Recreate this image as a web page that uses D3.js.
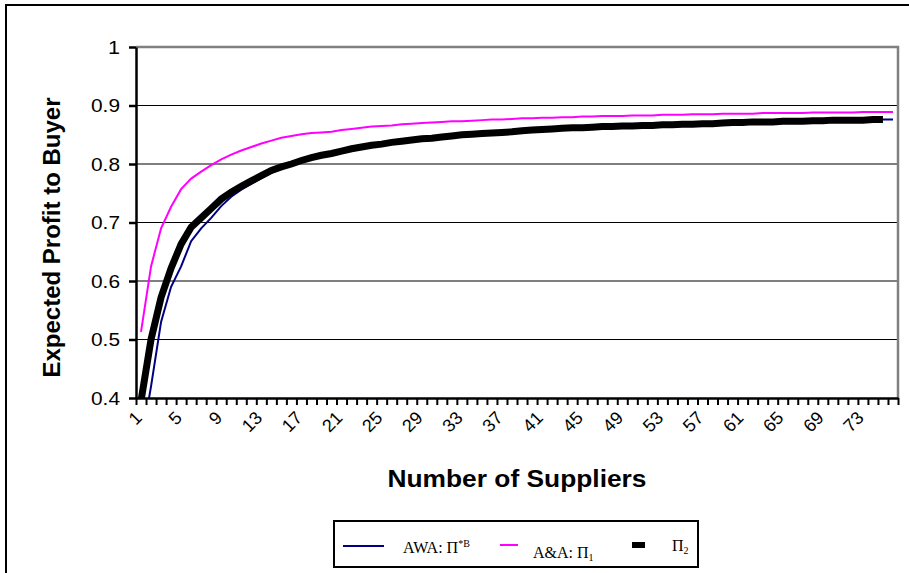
<!DOCTYPE html>
<html>
<head>
<meta charset="utf-8">
<script src="https://cdn.jsdelivr.net/npm/d3@7"></script>
<style>
  body { margin: 0; background: #fff; }
  svg { display: block; font-family: "Liberation Sans", Arial, sans-serif; }
</style>
</head>
<body>
<div id="chart"></div>
<script>
// --------------------------------------
//  Data
// --------------------------------------

const suppliers = d3.range(1, 77);
const xTickLabels = [1, 5, 9, 13, 17, 21, 25, 29, 33, 37, 41, 45, 49, 53, 57, 61, 65, 69, 73];
const yTicks = [0.4, 0.5, 0.6, 0.7, 0.8, 0.9, 1];

// AWA: Pi*B
const awa = [0.320, 0.420, 0.530, 0.590, 0.625, 0.668, 0.690, 0.708, 0.728, 0.744,
  0.756, 0.766, 0.776, 0.785, 0.792, 0.798, 0.804, 0.809, 0.814, 0.818,
  0.822, 0.826, 0.829, 0.832, 0.834, 0.837, 0.839, 0.841, 0.843, 0.844,
  0.846, 0.848, 0.850, 0.851, 0.852, 0.853, 0.854, 0.855, 0.857, 0.858,
  0.859, 0.860, 0.861, 0.862, 0.862, 0.863, 0.864, 0.864, 0.865, 0.865,
  0.866, 0.866, 0.867, 0.867, 0.868, 0.868, 0.869, 0.869, 0.870, 0.871,
  0.871, 0.872, 0.872, 0.872, 0.873, 0.873, 0.873, 0.874, 0.874, 0.875,
  0.875, 0.875, 0.875, 0.876, 0.876, 0.876];

// A&A: Pi1
const aa = [0.513, 0.625, 0.690, 0.727, 0.757, 0.775, 0.787, 0.798, 0.808, 0.816,
  0.823, 0.829, 0.835, 0.840, 0.845, 0.848, 0.851, 0.853, 0.854, 0.855,
  0.858, 0.860, 0.862, 0.864, 0.865, 0.866, 0.868, 0.869, 0.870, 0.871,
  0.872, 0.873, 0.873, 0.874, 0.875, 0.876, 0.876, 0.877, 0.878, 0.878,
  0.879, 0.879, 0.880, 0.880, 0.881, 0.881, 0.882, 0.882, 0.882, 0.883,
  0.883, 0.883, 0.884, 0.884, 0.884, 0.885, 0.885, 0.885, 0.886, 0.886,
  0.886, 0.886, 0.887, 0.887, 0.887, 0.887, 0.887, 0.888, 0.888, 0.888,
  0.888, 0.888, 0.889, 0.889, 0.889, 0.889];

// Pi2
const pi2 = [0.395, 0.500, 0.572, 0.622, 0.663, 0.692, 0.708, 0.724, 0.740, 0.752,
  0.762, 0.771, 0.780, 0.789, 0.795, 0.800, 0.806, 0.811, 0.815, 0.818,
  0.822, 0.826, 0.829, 0.832, 0.834, 0.837, 0.839, 0.841, 0.843, 0.844,
  0.846, 0.848, 0.850, 0.851, 0.852, 0.853, 0.854, 0.855, 0.857, 0.858,
  0.859, 0.860, 0.861, 0.862, 0.862, 0.863, 0.864, 0.864, 0.865, 0.865,
  0.866, 0.866, 0.867, 0.867, 0.868, 0.868, 0.869, 0.869, 0.870, 0.871,
  0.871, 0.872, 0.872, 0.872, 0.873, 0.873, 0.873, 0.874, 0.874, 0.875,
  0.875, 0.875, 0.875, 0.876, 0.876];

// --------------------------------------
//  Canvas
// --------------------------------------

const width = 909, height = 573;
const plot = { left: 136, right: 898, top: 47, bottom: 398 };

const svg = d3.select("#chart")
  .append("svg")
    .attr("width", width)
    .attr("height", height);

// outer chart border (runs off the right and bottom)
svg.append("rect")
    .attr("x", 6).attr("y", 5)
    .attr("width", 960).attr("height", 640)
    .attr("fill", "none")
    .attr("stroke", "#000")
    .attr("stroke-width", 2);

// --------------------------------------
//  Scales
// --------------------------------------

const x = d3.scaleBand()
    .domain(suppliers)
    .range([plot.left, plot.right]);

const xEdge = d3.scaleLinear()
    .domain([0, suppliers.length])
    .range([plot.left, plot.right]);

const y = d3.scaleLinear()
    .domain([0.4, 1])
    .range([plot.bottom, plot.top]);

const cx = d => x(d) + x.bandwidth() / 2;

// --------------------------------------
//  Grid + plot border
// --------------------------------------

svg.append("g")
  .selectAll("line")
  .data(yTicks.filter(d => d > 0.4 && d < 1))
  .join("line")
    .attr("x1", plot.left).attr("x2", plot.right)
    .attr("y1", d => y(d)).attr("y2", d => y(d))
    .attr("stroke", "#000")
    .attr("stroke-width", 1.2);

svg.append("path")
    .attr("d", `M${plot.left},${y(1)}H${plot.right}V${plot.bottom}`)
    .attr("fill", "none")
    .attr("stroke", "#808080")
    .attr("stroke-width", 2.5);

// --------------------------------------
//  Lines
// --------------------------------------

svg.append("clipPath")
    .attr("id", "clip")
  .append("rect")
    .attr("x", plot.left).attr("y", plot.top)
    .attr("width", plot.right - plot.left)
    .attr("height", plot.bottom - plot.top);

const lines = svg.append("g").attr("clip-path", "url(#clip)");

const line = d3.line()
    .x((d, i) => cx(suppliers[i]))
    .y(d => y(d));

lines.append("path")
    .attr("d", line(aa))
    .attr("fill", "none")
    .attr("stroke", "#ff00ff")
    .attr("stroke-width", 2);

lines.append("path")
    .attr("d", line(awa))
    .attr("fill", "none")
    .attr("stroke", "#000080")
    .attr("stroke-width", 2);

lines.append("path")
    .attr("d", line(pi2))
    .attr("fill", "none")
    .attr("stroke", "#000")
    .attr("stroke-width", 7);

// --------------------------------------
//  Axes
// --------------------------------------

const yAxis = svg.append("g")
    .attr("transform", `translate(${plot.left},0)`)
    .call(d3.axisLeft(y)
      .tickValues(yTicks)
      .tickSize(7)
      .tickSizeOuter(0)
      .tickPadding(9)
      .tickFormat(d => d === 1 ? "1" : d3.format(".1f")(d)));

yAxis.select(".domain").attr("stroke-width", 2.5);
yAxis.selectAll(".tick line").attr("stroke-width", 2.5);
yAxis.selectAll("text")
    .attr("font-size", 19)
    .attr("fill", "#000")
    .attr("textLength", d => d === 1 ? 12 : 29)
    .attr("lengthAdjust", "spacingAndGlyphs");

const xAxis = svg.append("g")
    .attr("transform", `translate(0,${plot.bottom})`)
    .call(d3.axisBottom(xEdge)
      .tickValues(d3.range(0, suppliers.length + 1))
      .tickSize(7)
      .tickSizeOuter(0)
      .tickFormat(""));

xAxis.select(".domain").attr("stroke-width", 2.5);
xAxis.selectAll(".tick line").attr("stroke-width", 2);

svg.append("g")
  .selectAll("text")
  .data(xTickLabels)
  .join("text")
    .attr("transform", d => `translate(${cx(d) + 2},${plot.bottom + 21}) rotate(-45)`)
    .attr("text-anchor", "end")
    .attr("font-size", 18)
    .text(d => d);

// --------------------------------------
//  Titles
// --------------------------------------

svg.append("text")
    .attr("transform", `translate(60,${(plot.top + plot.bottom) / 2 + 15}) rotate(-90)`)
    .attr("text-anchor", "middle")
    .attr("font-size", 24)
    .attr("font-weight", "bold")
    .attr("textLength", 280)
    .attr("lengthAdjust", "spacingAndGlyphs")
    .text("Expected Profit to Buyer");

svg.append("text")
    .attr("x", 517).attr("y", 487)
    .attr("text-anchor", "middle")
    .attr("font-size", 23)
    .attr("font-weight", "bold")
    .attr("textLength", 259)
    .attr("lengthAdjust", "spacingAndGlyphs")
    .text("Number of Suppliers");

// --------------------------------------
//  Legend
// --------------------------------------

const legend = svg.append("g")
    .attr("font-family", "'Liberation Serif', 'Times New Roman', serif")
    .attr("font-size", 16);

legend.append("rect")
    .attr("x", 334).attr("y", 521)
    .attr("width", 364).attr("height", 46)
    .attr("fill", "#fff")
    .attr("stroke", "#000")
    .attr("stroke-width", 2);

legend.append("line")
    .attr("x1", 343).attr("x2", 384).attr("y1", 546).attr("y2", 546)
    .attr("stroke", "#000080").attr("stroke-width", 2);

const t1 = legend.append("text").attr("x", 403).attr("y", 553);
t1.append("tspan").text("AWA: Π");
t1.append("tspan").attr("font-size", 10).attr("dy", -6).text("*B");

legend.append("line")
    .attr("x1", 500).attr("x2", 518).attr("y1", 545).attr("y2", 545)
    .attr("stroke", "#ff00ff").attr("stroke-width", 2);

const t2 = legend.append("text").attr("x", 533).attr("y", 558);
t2.append("tspan").text("A&A: Π");
t2.append("tspan").attr("font-size", 10).attr("dy", 3).text("1");

legend.append("rect")
    .attr("x", 632).attr("y", 542)
    .attr("width", 13).attr("height", 6)
    .attr("fill", "#000");

const t3 = legend.append("text").attr("x", 672).attr("y", 551);
t3.append("tspan").text("Π");
t3.append("tspan").attr("font-size", 10).attr("dy", 3).text("2");
</script>
</body>
</html>
